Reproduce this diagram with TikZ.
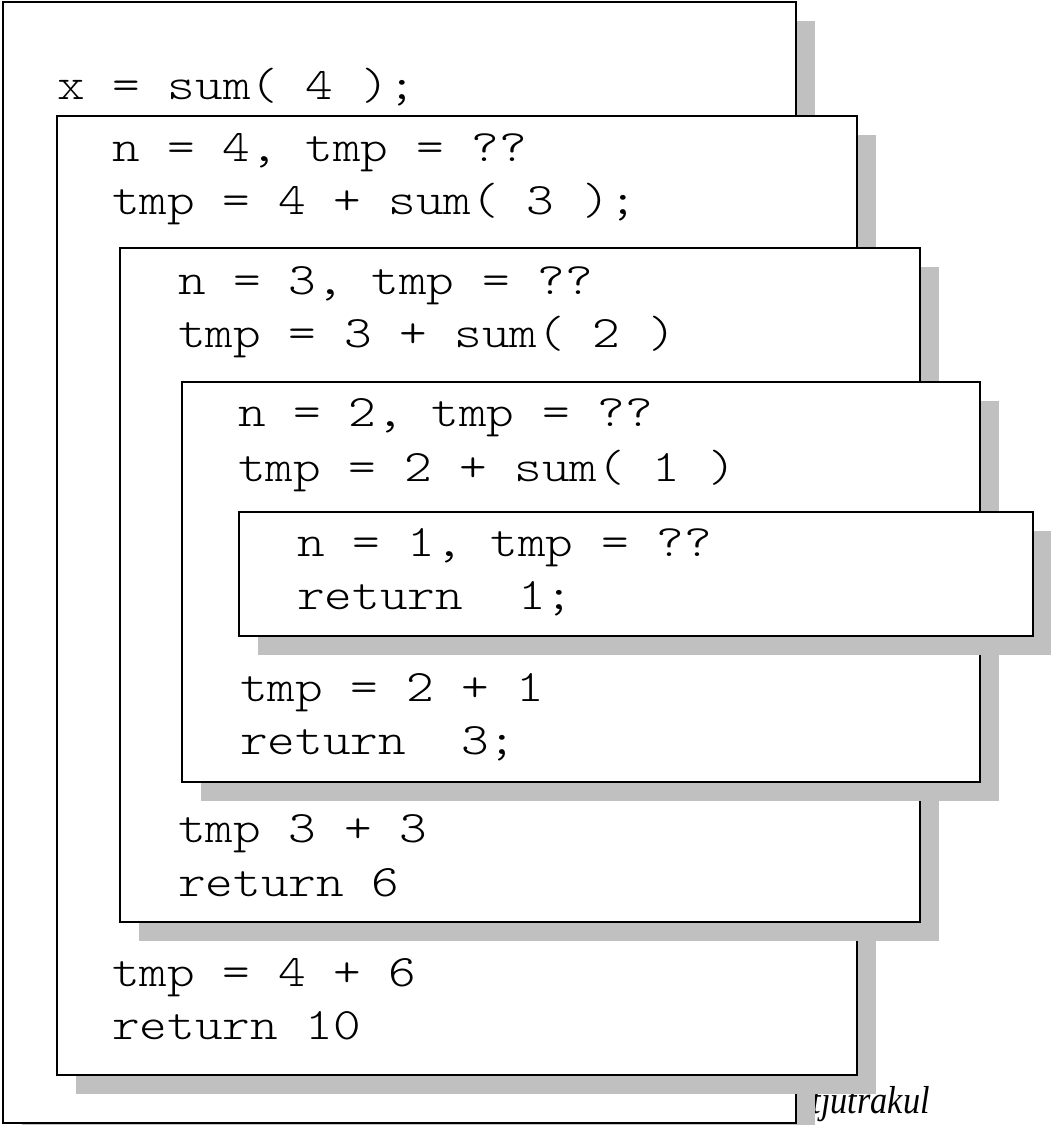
\documentclass[tikz,border=0pt]{standalone}
\usepackage{fontspec}
\newfontfamily\codefont{Latin Modern Mono Light}[FakeStretch=1.17]
\newfontfamily\creditfont{Liberation Serif}[FakeStretch=0.88]
\definecolor{shadowgrey}{RGB}{192,192,192}
\tikzset{
  frame/.style={draw=black, fill=white, line width=1.6pt},
  dropshadow/.style={fill=shadowgrey},
  code/.style={anchor=base west, inner sep=0pt, font=\fontsize{45}{54}\selectfont\codefont},
  credit/.style={anchor=base east, inner sep=0pt, font=\fontsize{39}{46}\selectfont\creditfont\itshape}
}
\newcommand\stackframe[4]{%
  \fill[dropshadow] ({#1+19},{#2+19}) rectangle ({#3+19},{#4+19});
  \draw[frame] (#1,#2) rectangle (#3,#4);
}
\begin{document}
\begin{tikzpicture}[x=1pt,y=-1pt]
\useasboundingbox (0,0) rectangle (1051,1125);
\node[credit] (credit) at (930,1113) {itjutrakul};
% level 1
\stackframe{3}{2}{796}{1123}
\node[code] (l1a) at (57,99) {x = sum( 4 );};
% level 2
\stackframe{57}{116}{857}{1075}
\node[code] (l2a) at (112,161) {n = 4, tmp = ??};
\node[code] (l2b) at (112,214) {tmp = 4 + sum( 3 );};
\node[code] (l2c) at (112,986) {tmp = 4 + 6};
\node[code] (l2d) at (112,1039) {return 10};
% level 3
\stackframe{120}{248}{920}{922}
\node[code] (l3a) at (178,294) {n = 3, tmp = ??};
\node[code] (l3b) at (178,347) {tmp = 3 + sum( 2 )};
\node[code] (l3c) at (178,842) {tmp 3 + 3};
\node[code] (l3d) at (178,896) {return 6};
% level 4
\stackframe{182}{382}{980}{782}
\node[code] (l4a) at (238,426) {n = 2, tmp = ??};
\node[code] (l4b) at (238,481) {tmp = 2 + sum( 1 )};
\node[code] (l4c) at (240,701) {tmp = 2 + 1};
\node[code] (l4d) at (240,754) {return\ \ 3;};
% level 5
\stackframe{239}{512}{1033}{636}
\node[code] (l5a) at (297,556) {n = 1, tmp = ??};
\node[code] (l5b) at (297,609) {return\ \ 1;};
\end{tikzpicture}
\end{document}
